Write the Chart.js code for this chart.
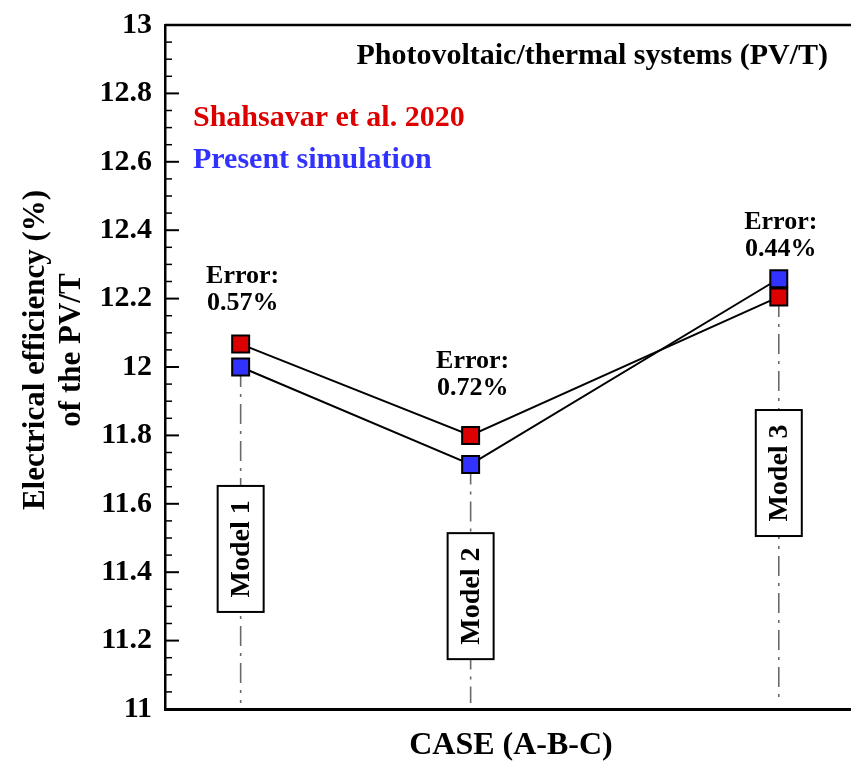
<!DOCTYPE html>
<html>
<head>
<meta charset="utf-8">
<script src="https://cdn.jsdelivr.net/npm/chart.js@4.4.1/dist/chart.umd.min.js"></script>
<style>
  html, body { margin: 0; padding: 0; background: #fff; }
  #wrap { width: 851px; height: 764px; position: relative; }
</style>
</head>
<body>
<div id="wrap"><canvas id="pvtChart" width="851" height="764"></canvas></div>
<script>
// ---------------------------
// Data
// ---------------------------
const caseLabels = ['Model 1', 'Model 2', 'Model 3'];
const caseX = [1, 2, 3.34];
const shahsavar = [12.067, 11.80, 12.205];
const present = [12.0, 11.715, 12.258];
const errorLabels = ['0.57%', '0.72%', '0.44%'];
const yTicks = [11, 11.2, 11.4, 11.6, 11.8, 12, 12.2, 12.4, 12.6, 12.8, 13];
const yTickLabels = ['11', '11.2', '11.4', '11.6', '11.8', '12', '12.2', '12.4', '12.6', '12.8', '13'];

// where the annotations sit (in axis units)
const errorY = [12.266, 12.018, 12.424];
const boxY = [11.468, 11.33, 11.69];

const RED = '#dd0000';
const BLUE = '#3232ff';
const SERIF = '"Liberation Serif", "Times New Roman", serif';

function txt(ctx, s, x, y, size, color, align) {
    ctx.save();
    ctx.font = `bold ${size}px ${SERIF}`;
    ctx.fillStyle = color;
    ctx.textAlign = align || 'center';
    ctx.textBaseline = 'middle';
    ctx.fillText(s, x, y);
    ctx.restore();
}

// vertical dash-dot guides + "Model n" boxes, drawn under the series
const guidesPlugin = {
    id: 'guides',
    beforeDatasetsDraw(chart) {
        const { ctx, chartArea, scales: { x, y } } = chart;
        caseX.forEach((cx, i) => {
            const px = x.getPixelForValue(cx);
            const low = Math.min(shahsavar[i], present[i]);
            ctx.save();
            ctx.strokeStyle = '#6a6a6a';
            ctx.lineWidth = 1.6;
            ctx.setLineDash([20, 7, 3, 7]);
            ctx.beginPath();
            ctx.moveTo(px, y.getPixelForValue(low));
            ctx.lineTo(px, chartArea.bottom - 6);
            ctx.stroke();
            ctx.restore();

            // label box
            const by = y.getPixelForValue(boxY[i]);
            const w = 46, h = 126;
            ctx.save();
            ctx.fillStyle = '#fff';
            ctx.strokeStyle = '#000';
            ctx.lineWidth = 2;
            ctx.fillRect(px - w / 2, by - h / 2, w, h);
            ctx.strokeRect(px - w / 2, by - h / 2, w, h);
            ctx.translate(px, by);
            ctx.rotate(-Math.PI / 2);
            ctx.font = `bold 28px ${SERIF}`;
            ctx.fillStyle = '#000';
            ctx.textAlign = 'center';
            ctx.textBaseline = 'middle';
            ctx.fillText(caseLabels[i], 0, 1);
            ctx.restore();
        });
    },
    afterDraw(chart) {
        const { ctx, chartArea, scales: { x, y } } = chart;
        const left = chartArea.left;

        // top frame line
        ctx.save();
        ctx.strokeStyle = '#000';
        ctx.lineWidth = 2.5;
        ctx.beginPath();
        ctx.moveTo(left, chartArea.top);
        ctx.lineTo(chartArea.right, chartArea.top);
        ctx.stroke();

        // inward ticks: major every 0.2, minor every 0.05
        ctx.lineWidth = 2;
        yTicks.forEach(v => {
            const py = y.getPixelForValue(v);
            ctx.beginPath();
            ctx.moveTo(left, py);
            ctx.lineTo(left + 14, py);
            ctx.stroke();
        });
        ctx.lineWidth = 1.5;
        for (let k = 1; k < 40; k++) {
            if (k % 4 === 0) continue;
            const py = y.getPixelForValue(11 + k * 0.05);
            ctx.beginPath();
            ctx.moveTo(left, py);
            ctx.lineTo(left + 7, py);
            ctx.stroke();
        }
        ctx.restore();

        // error notes
        caseX.forEach((cx, i) => {
            const px = x.getPixelForValue(cx) + 2;
            const py = y.getPixelForValue(errorY[i]);
            txt(ctx, 'Error:', px, py, 26, '#000');
            txt(ctx, errorLabels[i], px, py + 27, 26, '#000');
        });

        // legend-ish text and title
        txt(ctx, 'Photovoltaic/thermal systems (PV/T)', 828, 56, 30, '#000', 'right');
        txt(ctx, 'Shahsavar et al. 2020', 193, 118, 30, RED, 'left');
        txt(ctx, 'Present simulation', 193, 160, 30, BLUE, 'left');

        // axis titles
        txt(ctx, 'CASE (A-B-C)', 511, 746, 32, '#000');
        ctx.save();
        ctx.translate(36, 350);
        ctx.rotate(-Math.PI / 2);
        txt(ctx, 'Electrical efficiency (%)', 0, 0, 31, '#000');
        txt(ctx, 'of the PV/T', 0, 36, 31, '#000');
        ctx.restore();
    }
};

const toPoints = vals => vals.map((v, i) => ({ x: caseX[i], y: v }));

const seriesStyle = color => ({
    showLine: true,
    borderColor: '#000',
    borderWidth: 2,
    pointStyle: 'rect',
    pointRadius: 12,
    pointHoverRadius: 12,
    pointBackgroundColor: color,
    pointBorderColor: '#000',
    pointBorderWidth: 2,
    tension: 0
});

document.addEventListener('DOMContentLoaded', () => {
    const ctx = document.getElementById('pvtChart').getContext('2d');
    new Chart(ctx, {
        type: 'scatter',
        data: {
            datasets: [
                { label: 'Present simulation', data: toPoints(present), ...seriesStyle(BLUE) },
                { label: 'Shahsavar et al. 2020', data: toPoints(shahsavar), ...seriesStyle(RED) }
            ]
        },
        options: {
            responsive: false,
            animation: false,
            devicePixelRatio: 1,
            layout: { autoPadding: false, padding: { top: 25, right: 0, bottom: 0, left: 0 } },
            plugins: {
                legend: { display: false },
                tooltip: { enabled: false }
            },
            scales: {
                x: {
                    type: 'linear',
                    min: 0.671,
                    max: 3.654,
                    grid: { display: false },
                    border: { display: true, color: '#000', width: 3 },
                    ticks: { display: false },
                    afterFit: s => { s.height = 55; }
                },
                y: {
                    type: 'linear',
                    min: 11,
                    max: 13,
                    grid: { display: false },
                    border: { display: true, color: '#000', width: 2.5 },
                    afterBuildTicks: s => { s.ticks = yTicks.map(v => ({ value: v })); },
                    ticks: {
                        color: '#000',
                        padding: 5,
                        font: { family: SERIF, size: 30, weight: 'bold' },
                        callback: (v) => yTickLabels[yTicks.indexOf(v)] ?? ''
                    },
                    afterFit: s => { s.width = 165; }
                }
            }
        },
        plugins: [guidesPlugin]
    });
});
</script>
</body>
</html>
